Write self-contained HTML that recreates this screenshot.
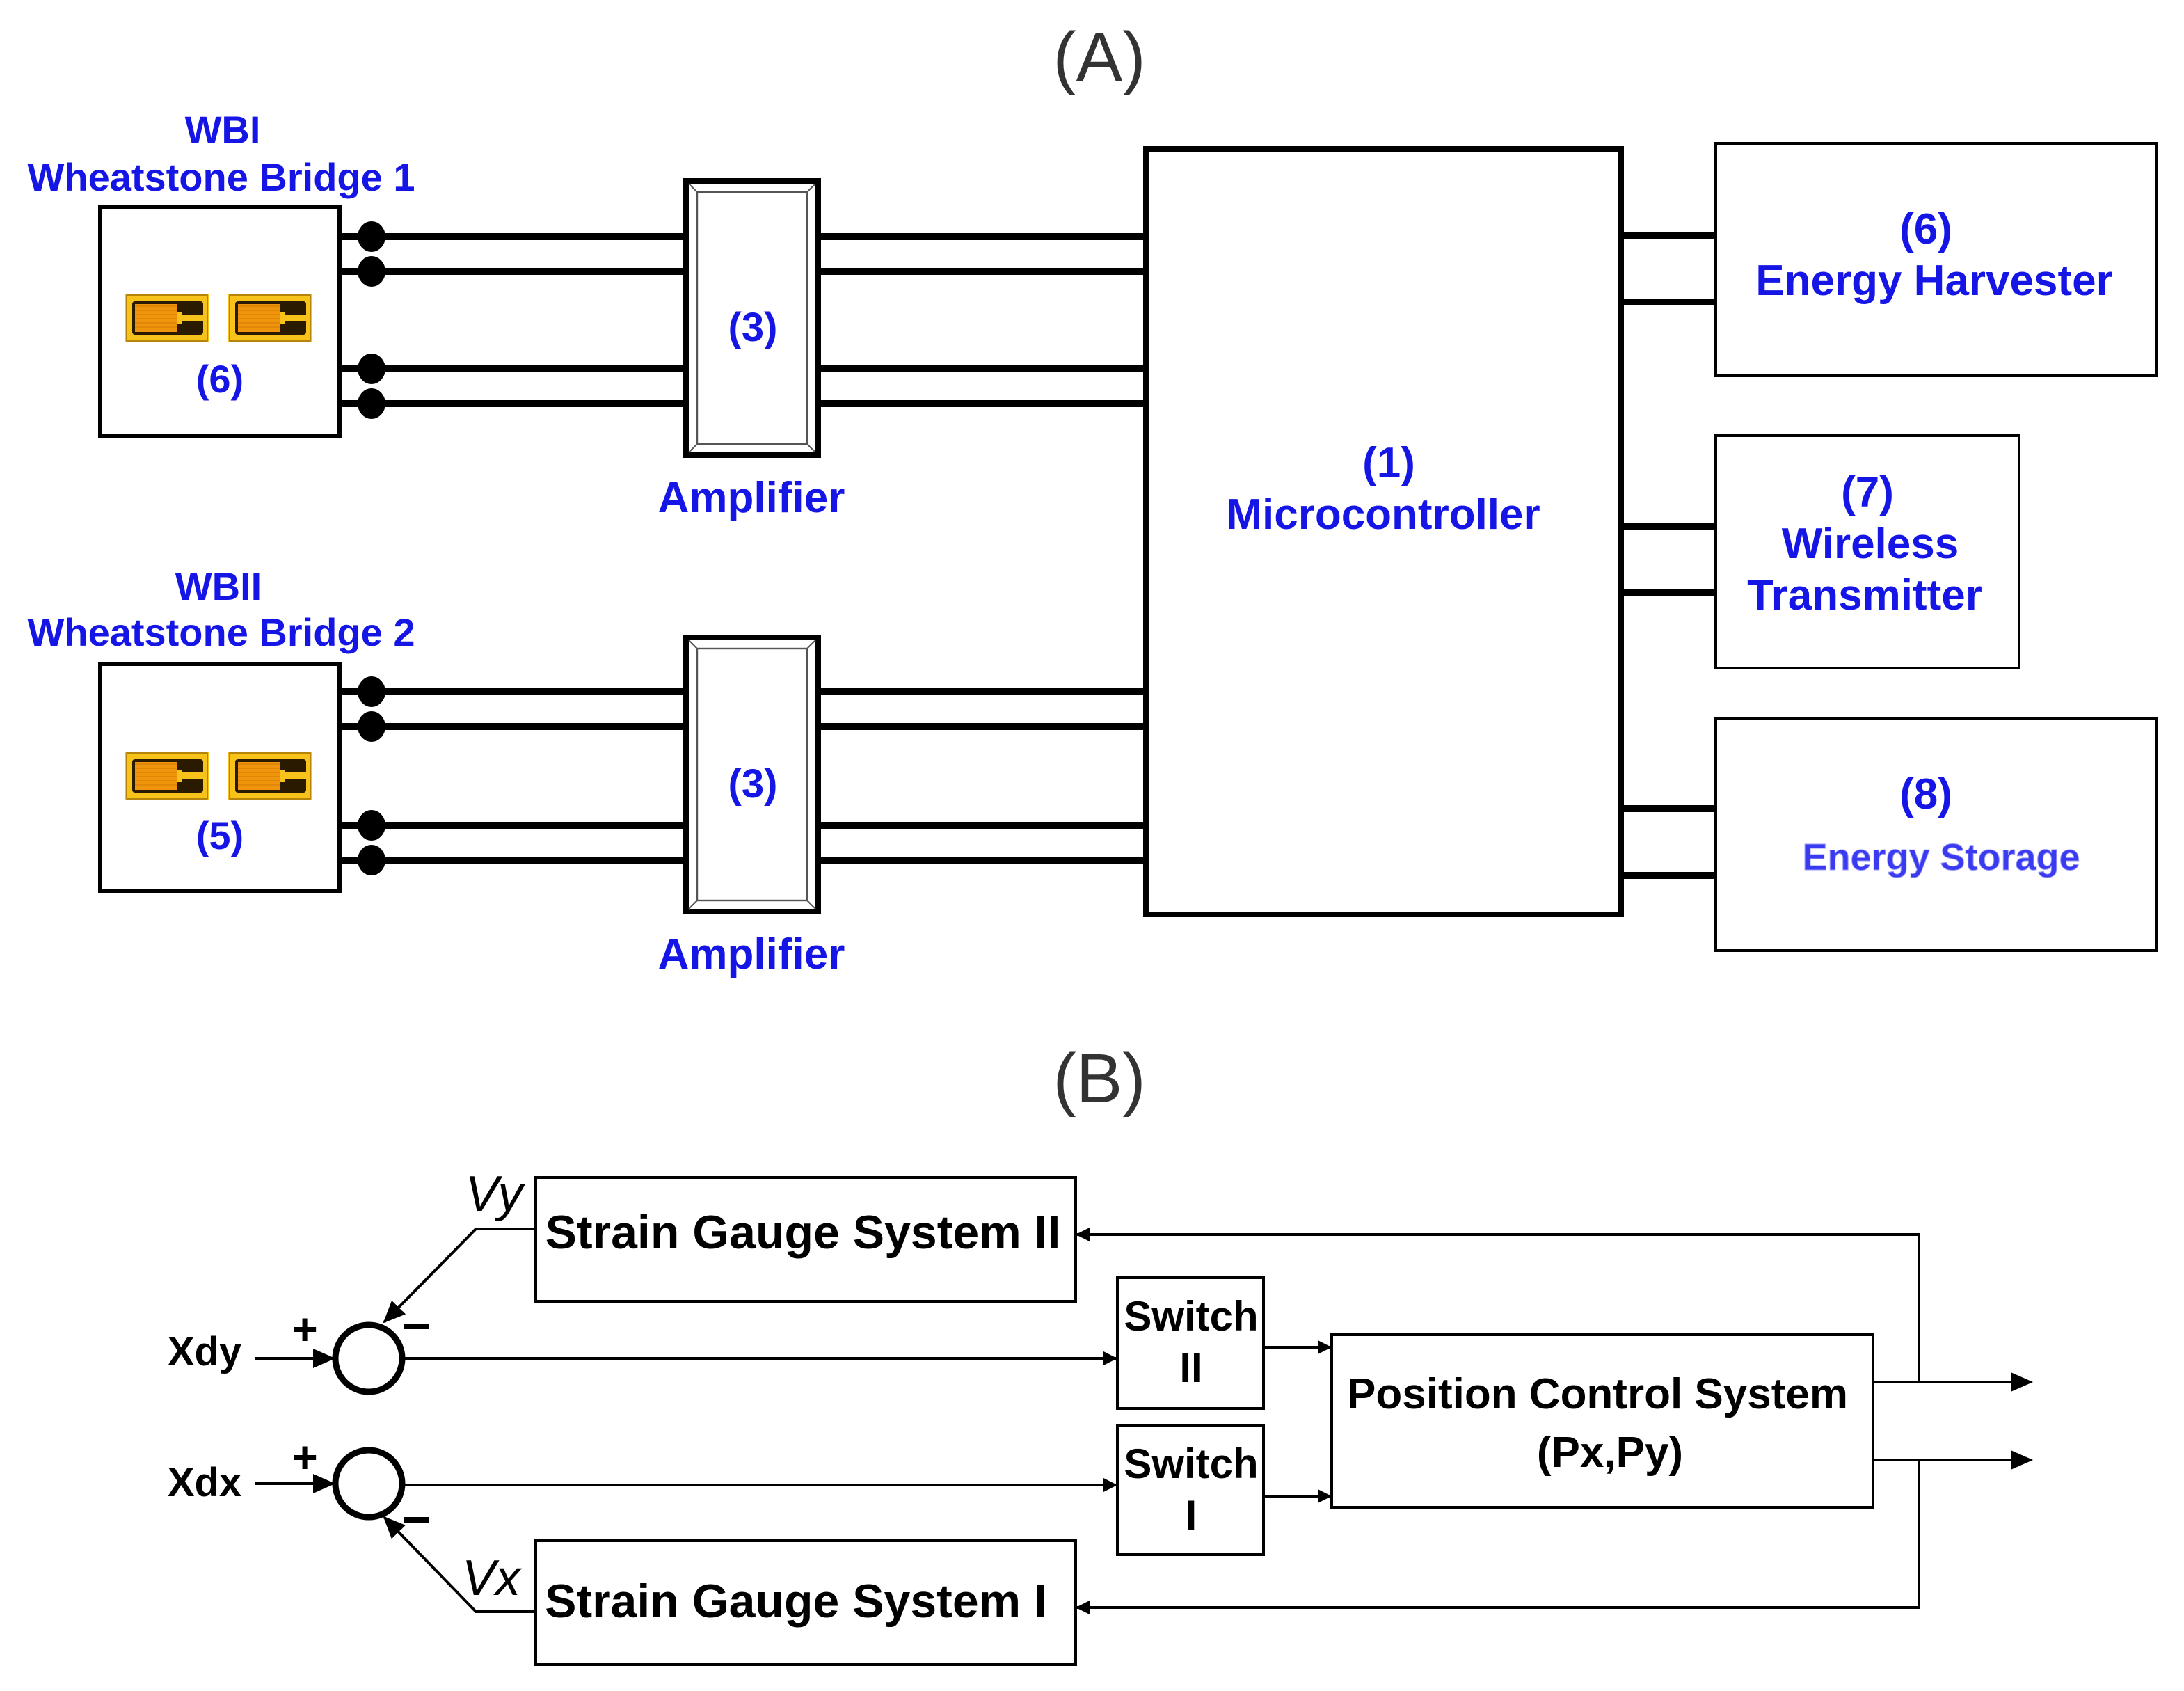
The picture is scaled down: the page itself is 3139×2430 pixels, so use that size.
<!DOCTYPE html>
<html><head><meta charset="utf-8"><style>html,body{margin:0;padding:0;background:#fff}svg{display:block}</style></head>
<body>
<svg width="3139" height="2430" viewBox="0 0 1569.5 1215" xmlns="http://www.w3.org/2000/svg" font-family="Liberation Sans, Arial, sans-serif">
<defs>
<g id="gauge">
<rect x="0" y="0" width="60" height="35" fill="#f7c21a"/>
<rect x="1" y="1" width="58" height="33" fill="none" stroke="#8a5a00" stroke-width="0.6"/>
<rect x="5" y="5.5" width="51" height="24" rx="2" fill="#2a1a00"/>
<rect x="7" y="7.5" width="30" height="20" fill="#f0940c"/>
<rect x="37" y="13" width="4" height="9" fill="#f7c21a"/>
<rect x="41" y="15" width="15" height="5" fill="#f7c21a"/>
<path d="M7 9h30M7 12h30M7 15h30M7 18h30M7 21h30M7 24h30" stroke="#d07a05" stroke-width="0.5"/>
</g>
<g id="amp">
<rect x="0" y="0" width="95" height="197" fill="#fff" stroke="#000" stroke-width="4"/>
<rect x="8" y="8" width="79" height="181" fill="none" stroke="#555" stroke-width="1.2"/>
<path d="M2 2L8 8M93 2L87 8M2 195L8 189M93 195L87 189" stroke="#555" stroke-width="1"/>
</g>
<marker id="ar" markerWidth="10" markerHeight="10" refX="9" refY="5" orient="auto" markerUnits="userSpaceOnUse" viewBox="0 0 10 10"><path d="M0 0L10 5L0 10z" fill="#000"/></marker>
<marker id="ar2" markerWidth="16" markerHeight="14" refX="15" refY="7" orient="auto" markerUnits="userSpaceOnUse" viewBox="0 0 16 14"><path d="M0 0L16 7L0 14z" fill="#000"/></marker>
</defs>

<text x="790" y="58" font-size="50" text-anchor="middle" fill="#333">(A)</text>

<g fill="none" stroke="#000">
<rect x="72" y="149" width="172" height="164" stroke-width="3"/>
<rect x="72" y="477" width="172" height="163" stroke-width="3"/>
<rect x="823.5" y="107" width="341.5" height="550" stroke-width="4"/>
<rect x="1233" y="103" width="317" height="167" stroke-width="2"/>
<rect x="1233" y="313" width="218" height="167" stroke-width="2"/>
<rect x="1233" y="516" width="317" height="167" stroke-width="2"/>
<g stroke-width="5">
<path d="M244 170H493M244 195H493M244 265H493M244 290H493"/>
<path d="M244 497H493M244 522H493M244 593H493M244 618H493"/>
<path d="M588 170H822M588 195H822M588 265H822M588 290H822"/>
<path d="M588 497H822M588 522H822M588 593H822M588 618H822"/>
<path d="M1165 169H1233M1165 217H1233M1165 378H1233M1165 426H1233M1165 581H1233M1165 629H1233"/>
</g>
</g>
<g fill="#000">
<ellipse cx="267" cy="170" rx="10" ry="11"/><ellipse cx="267" cy="195" rx="10" ry="11"/>
<ellipse cx="267" cy="265" rx="10" ry="11"/><ellipse cx="267" cy="290" rx="10" ry="11"/>
<ellipse cx="267" cy="497" rx="10" ry="11"/><ellipse cx="267" cy="522" rx="10" ry="11"/>
<ellipse cx="267" cy="593" rx="10" ry="11"/><ellipse cx="267" cy="618" rx="10" ry="11"/>
</g>
<use href="#amp" x="493" y="130"/>
<use href="#amp" x="493" y="458"/>
<use href="#gauge" x="90" y="211"/>
<use href="#gauge" x="164" y="211"/>
<use href="#gauge" x="90" y="540"/>
<use href="#gauge" x="164" y="540"/>

<g fill="#1515e6" font-weight="bold" text-anchor="middle">
<text x="160" y="103" font-size="28">WBI</text>
<text x="159" y="137" font-size="28">Wheatstone Bridge 1</text>
<text x="157" y="431" font-size="28">WBII</text>
<text x="159" y="464" font-size="28">Wheatstone Bridge 2</text>
<text x="158" y="282" font-size="28">(6)</text>
<text x="158" y="610" font-size="28">(5)</text>
<text x="541" y="245" font-size="29">(3)</text>
<text x="541" y="573" font-size="29">(3)</text>
<text x="540" y="368" font-size="31">Amplifier</text>
<text x="540" y="696" font-size="31">Amplifier</text>
<text x="998" y="343" font-size="31">(1)</text>
<text x="994" y="380" font-size="31">Microcontroller</text>
<text x="1384" y="175" font-size="31">(6)</text>
<text x="1390" y="212" font-size="31">Energy Harvester</text>
<text x="1342" y="364" font-size="31">(7)</text>
<text x="1344" y="401" font-size="31">Wireless</text>
<text x="1340" y="438" font-size="31">Transmitter</text>
<text x="1384" y="581" font-size="31">(8)</text>
<text x="1395" y="625" font-size="27" fill="#3a3af0" stroke="#9a9af8" stroke-width="0.5">Energy Storage</text>
</g>

<text x="790" y="792" font-size="50" text-anchor="middle" fill="#333">(B)</text>

<g fill="none" stroke="#000" stroke-width="2">
<rect x="385" y="846" width="388" height="89"/>
<rect x="385" y="1107" width="388" height="89"/>
<rect x="803" y="918" width="105" height="94"/>
<rect x="803" y="1024" width="105" height="93"/>
<rect x="957" y="959" width="389" height="124"/>
<circle cx="265" cy="976" r="24" stroke-width="4.5"/>
<circle cx="265" cy="1066" r="24" stroke-width="4.5"/>
<path d="M183 976H240" marker-end="url(#ar2)"/>
<path d="M183 1066H240" marker-end="url(#ar2)"/>
<path d="M385 883H342L276 950" marker-end="url(#ar2)"/>
<path d="M385 1158H342L276 1090" marker-end="url(#ar2)"/>
<path d="M290 976H802" marker-end="url(#ar)"/>
<path d="M290 1067H802" marker-end="url(#ar)"/>
<path d="M908 968H956" marker-end="url(#ar)"/>
<path d="M908 1075H956" marker-end="url(#ar)"/>
<path d="M1346 993H1460" marker-end="url(#ar2)"/>
<path d="M1346 1049H1460" marker-end="url(#ar2)"/>
<path d="M1379 993V887H774" marker-end="url(#ar)"/>
<path d="M1379 1049V1155H774" marker-end="url(#ar)"/>
</g>
<g font-weight="bold" fill="#000" text-anchor="middle">
<text x="577" y="897" font-size="34">Strain Gauge System II</text>
<text x="572" y="1162" font-size="34">Strain Gauge System I</text>
<text x="856" y="956" font-size="30">Switch</text>
<text x="856" y="993" font-size="30">II</text>
<text x="856" y="1062" font-size="30">Switch</text>
<text x="856" y="1099" font-size="30">I</text>
<text x="1148" y="1012" font-size="31">Position Control System</text>
<text x="1157" y="1054" font-size="31">(Px,Py)</text>
<text x="147" y="981" font-size="29">Xdy</text>
<text x="147" y="1075" font-size="29">Xdx</text>
<text x="219" y="966" font-size="32">+</text>
<text x="219" y="1058" font-size="32">+</text>
</g>
<path d="M290 953H308M290 1092H308" stroke="#000" stroke-width="4"/>
<g font-style="italic" font-size="36" fill="#000" text-anchor="middle">
<text x="355" y="870">Vy</text>
<text x="353" y="1146">Vx</text>
</g>
</svg>
</body></html>
